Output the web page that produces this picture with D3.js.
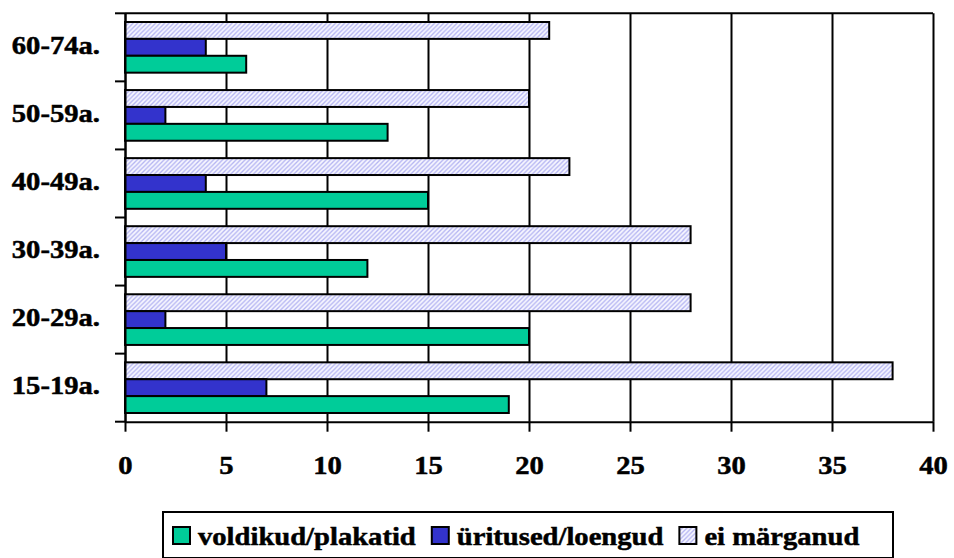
<!DOCTYPE html>
<html>
<head>
<meta charset="utf-8">
<script src="https://cdn.jsdelivr.net/npm/d3@7"></script>
<style>
  body { margin: 0; background: #fff; }
  text { font-family: "Liberation Serif", "Times New Roman", Times, serif; font-weight: bold; font-size: 26px; fill: #000; stroke: #000; stroke-width: 0.5px; }
</style>
</head>
<body>
<svg id="chart" width="954" height="558"></svg>
<script>
// data, top group first (as drawn)
var categories = ["60-74a.", "50-59a.", "40-49a.", "30-39a.", "20-29a.", "15-19a."];
var eiMarganud = [21, 20, 22, 28, 28, 38];
var yritused   = [4, 2, 4, 5, 2, 7];
var voldikud   = [6, 13, 15, 12, 20, 19];
var seriesNames = ["ei märganud", "üritused/loengud", "voldikud/plakatid"];
var legendOrder = ["voldikud/plakatid", "üritused/loengud", "ei märganud"];
var xTicks = [0, 5, 10, 15, 20, 25, 30, 35, 40];

var svg = d3.select("#chart"),
    margin = {top: 13.3, right: 21, bottom: 136.3, left: 125},
    width = 954 - margin.left - margin.right,
    height = 558 - margin.top - margin.bottom,
    stretch = 1.1;

var fills = {
  "ei märganud": "url(#hatch)",
  "üritused/loengud": "#3333cc",
  "voldikud/plakatid": "#00cc99"
};
var values = {
  "ei märganud": eiMarganud,
  "üritused/loengud": yritused,
  "voldikud/plakatid": voldikud
};

var defs = svg.append("defs");
var pat = defs.append("pattern")
    .attr("id", "hatch")
    .attr("patternUnits", "userSpaceOnUse")
    .attr("width", 4.5).attr("height", 4.5);
pat.append("rect").attr("width", 4.5).attr("height", 4.5).attr("fill", "#f6f6ff");
pat.append("path")
    .attr("d", "M-1,1 l2,-2 M0,4.5 l4.5,-4.5 M3.5,5.5 l2,-2")
    .attr("stroke", "#b4b4f2").attr("stroke-width", 1.3);

var g = svg.append("g").attr("transform", "translate(" + margin.left + "," + margin.top + ")");

var x = d3.scaleLinear().domain([0, 40]).range([0, width]);
var y = d3.scaleBand().domain(categories).range([0, height]).padding(0);
var y1 = d3.scaleBand().domain(seriesNames).range([0, y.bandwidth()]).paddingInner(0).paddingOuter(0.515);

// gridlines
g.append("g")
    .attr("class", "grid")
    .call(d3.axisBottom(x).tickValues(xTicks).tickSize(height).tickFormat(""))
    .call(function(s) {
      s.select(".domain").remove();
      s.selectAll("line").attr("stroke", "#000").attr("stroke-width", 2);
    });

// top border
g.append("line")
    .attr("x1", 0).attr("x2", width).attr("y1", 0).attr("y2", 0)
    .attr("stroke", "#000").attr("stroke-width", 2);

// bars
var group = g.selectAll(".cat")
  .data(categories)
  .enter().append("g")
    .attr("class", "cat")
    .attr("transform", function(d) { return "translate(0," + y(d) + ")"; });

group.selectAll("rect")
  .data(function(d, i) {
    return seriesNames.map(function(s) { return {series: s, value: values[s][i]}; });
  })
  .enter().append("rect")
    .attr("x", x(0))
    .attr("y", function(d) { return y1(d.series); })
    .attr("width", function(d) { return x(d.value) - x(0); })
    .attr("height", y1.bandwidth())
    .attr("fill", function(d) { return fills[d.series]; })
    .attr("stroke", "#000")
    .attr("stroke-width", 2);

// x axis
var xAxis = g.append("g")
    .attr("transform", "translate(0," + height + ")")
    .call(d3.axisBottom(x).tickValues(xTicks).tickSizeInner(10).tickSizeOuter(0));
xAxis.attr("font-family", null).attr("font-size", null);
xAxis.select(".domain").attr("stroke", "#000").attr("stroke-width", 2);
xAxis.selectAll("line").attr("stroke", "#000").attr("stroke-width", 2);
xAxis.selectAll("text")
    .attr("y", 0).attr("dy", 0)
    .attr("transform", "translate(0,52.5) scale(" + stretch + ",1)");

// y axis
var yAxis = g.append("g")
    .call(d3.axisLeft(y).tickSize(0));
yAxis.attr("font-family", null).attr("font-size", null);
yAxis.select(".domain").attr("stroke", "#000").attr("stroke-width", 2);
yAxis.selectAll("text")
    .attr("x", 0).attr("dy", "0.25em")
    .attr("transform", "translate(-25,0) scale(" + stretch + ",1)");

// tick marks between categories
var edges = categories.map(function(c) { return y(c); }).concat([y(categories[categories.length - 1]) + y.bandwidth()]);
g.selectAll(".ytick")
  .data(edges)
  .enter().append("line")
    .attr("class", "ytick")
    .attr("x1", -10).attr("x2", 0)
    .attr("y1", function(d) { return d; })
    .attr("y2", function(d) { return d; })
    .attr("stroke", "#000").attr("stroke-width", 2);

// legend
var legend = svg.append("g");
legend.append("rect")
    .attr("x", 163).attr("y", 512)
    .attr("width", 730).attr("height", 46)
    .attr("fill", "#fff").attr("stroke", "#000").attr("stroke-width", 2);

var lx = 173;
legendOrder.forEach(function(name) {
  legend.append("rect")
      .attr("x", lx).attr("y", 527)
      .attr("width", 17).attr("height", 17)
      .attr("fill", fills[name])
      .attr("stroke", "#000").attr("stroke-width", 2);
  var t = legend.append("text")
      .attr("transform", "translate(" + (lx + 25) + ",545) scale(" + stretch + ",1)")
      .text(name);
  var w = t.node().getComputedTextLength() * stretch;
  lx = lx + 25 + w + 16;
});
</script>
</body>
</html>
